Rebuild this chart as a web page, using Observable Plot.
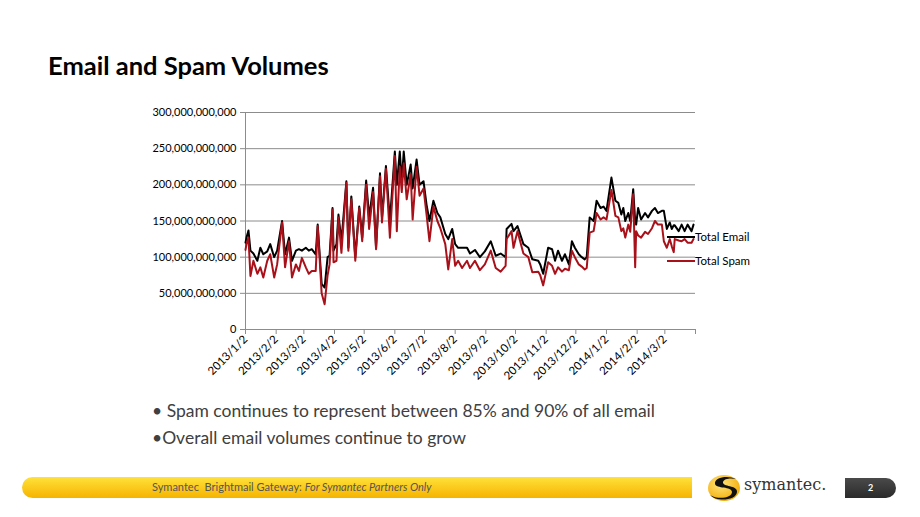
<!DOCTYPE html>
<html><head><meta charset="utf-8">
<script src="https://cdn.jsdelivr.net/npm/d3@7"></script>
<script src="https://cdn.jsdelivr.net/npm/@observablehq/plot@0.6"></script>
<style>
body{margin:0;width:920px;height:517px;background:#fff;position:relative;overflow:hidden;font-family:Lato,"Open Sans",sans-serif;}
#title{position:absolute;left:48px;top:50px;font-weight:bold;font-size:25.5px;color:#000;white-space:nowrap;}
#chart{position:absolute;left:0;top:90px;}
.leg{position:absolute;font-size:11.5px;color:#000;white-space:nowrap;}
.legline{position:absolute;height:2px;width:28px;}
#bullets{position:absolute;left:152px;top:397px;font-size:17.5px;color:#404040;line-height:27px;white-space:nowrap;}
#bar{position:absolute;left:22px;top:477px;width:670px;height:21px;border-radius:11px 0 0 11px;background:linear-gradient(#FFE23A,#F6B300);}
#bartext{position:absolute;left:152px;top:480px;font-size:11px;color:#555;white-space:nowrap;}
#page{position:absolute;left:845px;top:478px;width:51px;height:20px;border-radius:0 10px 10px 0;background:linear-gradient(#4a4a4a,#2a2a2a);color:#fff;font-size:9px;font-weight:bold;text-align:center;line-height:20px;}
#logotext{position:absolute;left:744px;top:475px;font-family:"DejaVu Serif","Liberation Serif",serif;font-size:16px;color:#333;white-space:nowrap;}
#logo{position:absolute;left:706px;top:473px;}
</style></head><body>
<div id="title">Email and Spam Volumes</div>
<div id="chart"></div>
<div class="legline" style="left:667px;top:236px;background:#000"></div>
<div class="leg" style="left:695px;top:230px">Total Email</div>
<div class="legline" style="left:667px;top:260px;background:#A8101A"></div>
<div class="leg" style="left:695px;top:254px">Total Spam</div>
<div id="bullets">• Spam continues to represent between 85% and 90% of all email<br>•Overall email volumes continue to grow</div>
<div id="bar"></div>
<div id="bartext">Symantec&nbsp; Brightmail Gateway: <i>For Symantec Partners Only</i></div>
<svg id="logo" width="36" height="30" viewBox="0 0 36 30">
<defs><radialGradient id="lg" cx="40%" cy="35%" r="70%"><stop offset="0" stop-color="#FFE680"/><stop offset="1" stop-color="#F2A900"/></radialGradient></defs>
<ellipse cx="18" cy="15" rx="16" ry="13" fill="url(#lg)"/>
<path d="M30 6 C22 2 8 4 9 11 C10 16 26 13 26 19 C26 25 12 27 4 22 C10 29 30 28 31 19 C32 12 16 14 17 9 C18 5 26 5 30 6 Z" fill="#111"/>
</svg>
<div id="logotext">symantec.</div>
<div id="page">2</div>
<script>
const dates = ["2013-01-02","2013-01-03","2013-01-05","2013-01-07","2013-01-10","2013-01-14","2013-01-17","2013-01-20","2013-01-24","2013-01-27","2013-01-31",
"2013-02-03","2013-02-08","2013-02-11","2013-02-15","2013-02-18","2013-02-22","2013-02-25","2013-02-28",
"2013-03-04","2013-03-07","2013-03-10","2013-03-14","2013-03-16","2013-03-20","2013-03-23","2013-03-26","2013-03-28","2013-03-31",
"2013-04-01","2013-04-04","2013-04-06","2013-04-09","2013-04-14","2013-04-16","2013-04-19","2013-04-23","2013-04-27","2013-04-30",
"2013-05-04","2013-05-07","2013-05-11","2013-05-14","2013-05-18","2013-05-20","2013-05-24","2013-05-28",
"2013-06-02","2013-06-04","2013-06-07","2013-06-09","2013-06-11","2013-06-14","2013-06-18","2013-06-20","2013-06-24","2013-06-27",
"2013-07-01","2013-07-04","2013-07-07","2013-07-11","2013-07-15","2013-07-18","2013-07-23","2013-07-26","2013-07-30",
"2013-08-02","2013-08-05","2013-08-09","2013-08-14","2013-08-17","2013-08-22","2013-08-27",
"2013-09-01","2013-09-07","2013-09-12","2013-09-17","2013-09-22","2013-09-23","2013-09-28","2013-09-30",
"2013-10-04","2013-10-10","2013-10-15","2013-10-19","2013-10-25","2013-10-27","2013-10-30",
"2013-11-04","2013-11-08","2013-11-11","2013-11-14","2013-11-18","2013-11-21","2013-11-25","2013-11-28",
"2013-12-01","2013-12-05","2013-12-08","2013-12-11","2013-12-13","2013-12-16","2013-12-20","2013-12-23","2013-12-27","2013-12-30",
"2014-01-02","2014-01-07","2014-01-11","2014-01-14","2014-01-17","2014-01-19","2014-01-21","2014-01-24","2014-01-26","2014-01-29","2014-01-31",
"2014-02-01","2014-02-03","2014-02-06","2014-02-10","2014-02-13","2014-02-17","2014-02-20","2014-02-23","2014-02-27",
"2014-03-01","2014-03-04","2014-03-07","2014-03-09","2014-03-11","2014-03-12","2014-03-16","2014-03-19","2014-03-22","2014-03-25","2014-03-29","2014-03-31"];
// billions
const email = [120,127,137,109,105,95,113,104,108,118,100,
109,150,104,127,95,109,111,109,
113,109,111,104,145,63,58,100,102,168,
109,118,159,122,205,113,184,100,170,127,
206,155,196,113,216,155,226,150,
246,200,246,205,246,200,228,195,235,200,
205,173,150,178,161,155,132,125,139,
118,113,113,113,105,110,100,
108,122,102,105,100,139,146,136,
143,118,113,97,95,90,77,
113,111,95,109,95,104,90,122,
113,104,100,97,100,155,150,178,168,170,
164,210,178,175,159,168,150,161,150,194,150,
145,168,152,161,155,164,168,161,164,
164,139,148,139,144,144,136,145,136,145,136,145];
const spam = [110,118,127,74,95,77,86,72,95,104,72,
90,148,86,122,72,90,81,99,
86,77,81,81,143,50,35,75,90,166,
93,95,155,106,203,109,180,95,168,122,
200,139,190,111,212,148,222,127,
240,136,225,190,230,180,215,152,225,185,
195,160,122,170,150,140,118,83,125,
88,95,85,95,85,95,82,
90,109,85,80,88,125,136,113,
136,105,100,79,80,75,61,
93,88,77,86,80,84,82,109,
100,90,87,83,85,134,136,161,152,155,
152,193,157,155,136,140,127,145,135,187,86,
136,130,127,135,132,140,150,145,145,
122,113,125,115,107,125,123,122,125,120,120,125];
const tickDates = ["2013-01-02","2013-02-02","2013-03-02","2013-04-02","2013-05-02","2013-06-02","2013-07-02","2013-08-02","2013-09-02","2013-10-02","2013-11-02","2013-12-02","2014-01-02","2014-02-02","2014-03-02","2014-04-02"];
const tickLabels = ["2013/1/2","2013/2/2","2013/3/2","2013/4/2","2013/5/2","2013/6/2","2013/7/2","2013/8/2","2013/9/2","2013/10/2","2013/11/2","2013/12/2","2014/1/2","2014/2/2","2014/3/2",""];
const yTicks = [0,50,100,150,200,250,300];

const parse = d3.utcParse("%Y-%m-%d");
const rows = dates.map((d,i)=>({date: parse(d), email: email[i], spam: spam[i]}));
const tickDs = tickDates.map(parse);
const labelMap = new Map(tickDs.map((d,i)=>[+d, tickLabels[i]]));
const fmt = d3.format(",");
const grid = "#8c8c8c";

const chart = Plot.plot({
  width: 760, height: 320,
  marginLeft: 245, marginRight: 65, marginTop: 22, marginBottom: 81,
  style: {fontFamily: "Lato, 'Open Sans', sans-serif", fontSize: "11px", color: "#000", background: "transparent"},
  x: {type: "utc", domain: [tickDs[0], tickDs[tickDs.length-1]]},
  y: {domain: [0, 300]},
  marks: [
    Plot.gridY(yTicks.slice(1), {stroke: grid, strokeOpacity: 1}),
    Plot.ruleY([0], {stroke: grid}),
    Plot.ruleX([tickDs[0]], {stroke: grid}),
    Plot.axisY(yTicks, {tickSize: 5, tickPadding: 4, stroke: grid, strokeOpacity: 1, tickFormat: d => fmt(d * 1e9), label: null}),
    Plot.axisX(tickDs, {tickSize: 5, tickPadding: 3, stroke: grid, strokeOpacity: 1, tickRotate: -45, fontSize: 11.5, tickFormat: d => labelMap.get(+d) ?? "", label: null}),
    Plot.lineY(rows, {x: "date", y: "email", stroke: "#000", strokeWidth: 2}),
    Plot.lineY(rows, {x: "date", y: "spam", stroke: "#A8101A", strokeWidth: 2})
  ]
});
document.getElementById("chart").appendChild(chart);
</script>
</body></html>
